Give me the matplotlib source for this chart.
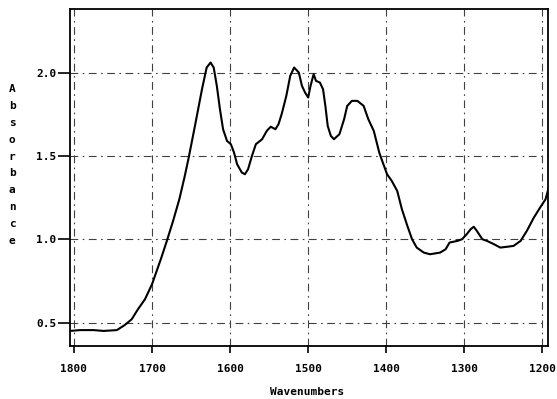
import matplotlib
matplotlib.use("Agg")
import matplotlib.pyplot as plt

# IR spectrum
wavenumbers = [1805, 1792, 1775, 1762, 1745, 1735, 1726, 1718, 1709, 1700,
               1694, 1688, 1681, 1673, 1665, 1658, 1653, 1645, 1636, 1630,
               1625, 1621, 1617, 1613, 1609, 1604, 1599, 1595, 1591, 1585,
               1581, 1577, 1572, 1567, 1559, 1553, 1548, 1542, 1538, 1534,
               1528, 1523, 1518, 1512, 1508, 1504, 1500, 1497, 1493, 1490,
               1485, 1481, 1478, 1475, 1471, 1467, 1460, 1454, 1450, 1444,
               1437, 1429, 1423, 1416, 1409, 1406, 1399, 1393, 1386, 1380,
               1373, 1367, 1361, 1352, 1344, 1331, 1324, 1319, 1309, 1303,
               1297, 1292, 1288, 1284, 1277, 1271, 1262, 1254, 1245, 1237,
               1228, 1220, 1211, 1203, 1196, 1192]
absorbance = [0.45, 0.455, 0.455, 0.45, 0.455, 0.485, 0.52, 0.58, 0.64, 0.73,
              0.81, 0.89, 0.99, 1.11, 1.24, 1.38, 1.49, 1.68, 1.90, 2.03,
              2.06, 2.03, 1.92, 1.78, 1.66, 1.59, 1.57, 1.52, 1.45, 1.40,
              1.39, 1.42, 1.50, 1.57, 1.60, 1.65, 1.675, 1.66, 1.69, 1.75,
              1.86, 1.98, 2.03, 2.00, 1.92, 1.88, 1.85, 1.92, 1.99, 1.95,
              1.94, 1.90, 1.80, 1.68, 1.62, 1.60, 1.63, 1.72, 1.80, 1.83,
              1.83, 1.80, 1.72, 1.65, 1.52, 1.48, 1.39, 1.35, 1.29, 1.18,
              1.08, 1.00, 0.95, 0.92, 0.91, 0.92, 0.94, 0.98, 0.99, 1.00,
              1.03, 1.06, 1.075, 1.05, 1.00, 0.99, 0.97, 0.95, 0.955, 0.96,
              0.99, 1.05, 1.13, 1.19, 1.24, 1.31]

x_ticks = [1800, 1700, 1600, 1500, 1400, 1300, 1200]
y_ticks = [0.5, 1.0, 1.5, 2.0]

FONT = "DejaVu Sans Mono"

fig = plt.figure(figsize=(5.57, 3.99), dpi=100)
ax = fig.add_axes([0.1257, 0.133, 0.858, 0.844])

ax.plot(wavenumbers, absorbance, color="black", lw=1.5)

ax.set_xlim(1805, 1193)
ax.set_ylim(0.36, 2.38)
ax.set_xticks(x_ticks)
ax.set_yticks(y_ticks)
ax.set_xticklabels([str(t) for t in x_ticks], family=FONT, fontweight="bold", fontsize=8)
ax.set_yticklabels(["%.1f" % t for t in y_ticks], family=FONT, fontweight="bold", fontsize=8)
ax.tick_params(axis="y", direction="out", length=9, width=1.2, pad=1)
ax.tick_params(axis="x", direction="out", length=5, width=1.2, pad=8)

ax.grid(True, color="0.25", lw=0.8, linestyle=(0, (7, 4, 1.5, 4)))
for s in ax.spines.values():
    s.set_linewidth(1.3)

# stacked letters, like the old plotter output
fig.text(12 / 557, 1 - 165 / 399, "\n".join("Absorbance"), ha="center", va="center",
         family=FONT, fontweight="bold", fontsize=8, linespacing=1.85)
fig.text(307 / 557, 1 - 392 / 399, "Wavenumbers", ha="center", va="center",
         family=FONT, fontweight="bold", fontsize=8)

fig.savefig("out.png", dpi=100)
